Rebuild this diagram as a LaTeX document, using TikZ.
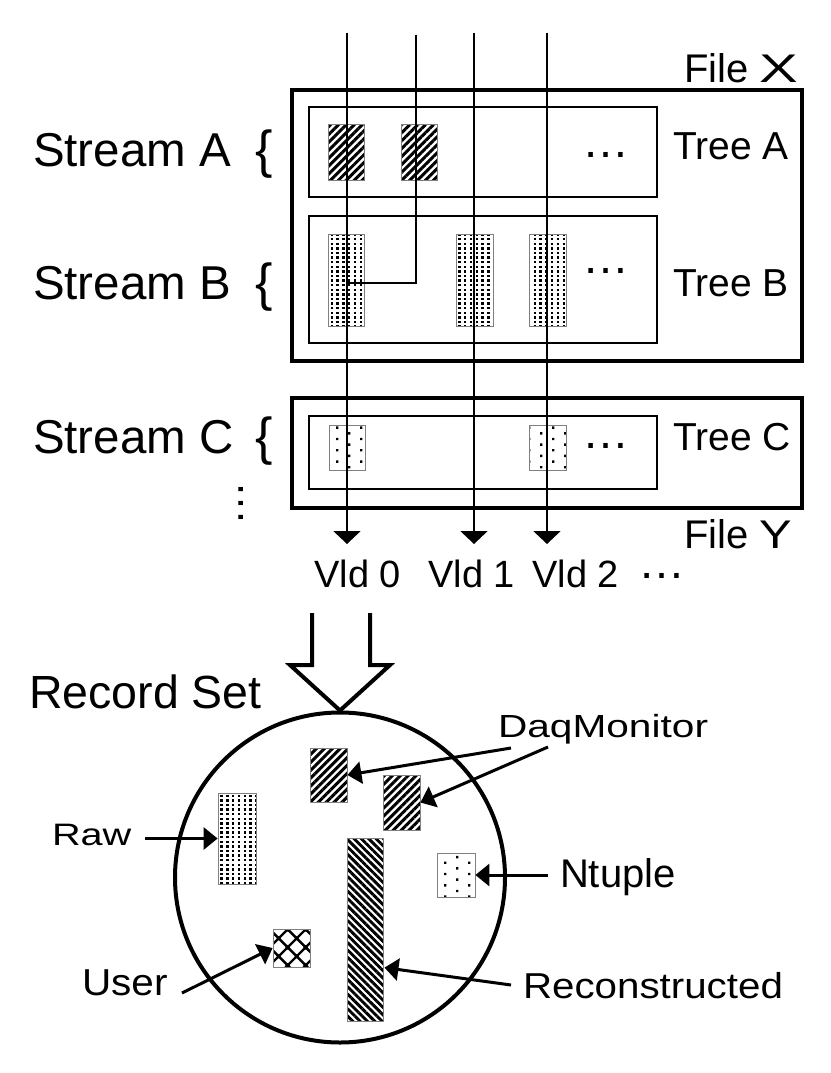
\documentclass[tikz,border=0pt]{standalone}
\usepackage{fontspec}
\setmainfont{Liberation Sans}
\usetikzlibrary{arrows.meta,patterns,patterns.meta,calc}

\pgfdeclarepatternformonly{densedots}{\pgfqpoint{-1pt}{-1pt}}{\pgfqpoint{5.6pt}{4.6pt}}{\pgfqpoint{5.8pt}{4.6pt}}{%
  \pgfpathrectangle{\pgfqpoint{0pt}{0pt}}{\pgfqpoint{2.3pt}{2.3pt}}\pgfusepath{fill}}
\pgfdeclarepatternformonly{sparsedots}{\pgfqpoint{-1pt}{-1pt}}{\pgfqpoint{24pt}{11.3pt}}{\pgfqpoint{24pt}{11.3pt}}{%
  \pgfpathrectangle{\pgfqpoint{0pt}{0pt}}{\pgfqpoint{2.4pt}{2.4pt}}%
  \pgfpathrectangle{\pgfqpoint{12pt}{5.65pt}}{\pgfqpoint{2.4pt}{2.4pt}}\pgfusepath{fill}}
\pgfdeclarepatternformonly{crossx}{\pgfqpoint{0pt}{0pt}}{\pgfqpoint{18pt}{18pt}}{\pgfqpoint{18pt}{18pt}}{%
  \pgfsetlinewidth{2.4pt}%
  \pgfpathmoveto{\pgfqpoint{0pt}{0pt}}\pgfpathlineto{\pgfqpoint{18pt}{18pt}}%
  \pgfpathmoveto{\pgfqpoint{0pt}{18pt}}\pgfpathlineto{\pgfqpoint{18pt}{0pt}}%
  \pgfusepath{stroke}%
  \pgfpathrectangle{\pgfqpoint{7pt}{7pt}}{\pgfqpoint{4pt}{4pt}}%
  \pgfpathrectangle{\pgfqpoint{-2pt}{-2pt}}{\pgfqpoint{4pt}{4pt}}%
  \pgfpathrectangle{\pgfqpoint{16pt}{-2pt}}{\pgfqpoint{4pt}{4pt}}%
  \pgfpathrectangle{\pgfqpoint{-2pt}{16pt}}{\pgfqpoint{4pt}{4pt}}%
  \pgfpathrectangle{\pgfqpoint{16pt}{16pt}}{\pgfqpoint{4pt}{4pt}}%
  \pgfusepath{fill}}

\newcommand\myfs[1]{\fontsize{#1}{#1}\selectfont}

\tikzset{
  lbl/.style={inner sep=0pt, outer sep=0pt, anchor=base west},
  filebox/.style={draw, line width=4pt, inner sep=0pt},
  treebox/.style={draw, line width=2.6pt, inner sep=0pt},
  blk/.style={draw=gray, line width=0.8pt, inner sep=0pt},
  strA/.style={pattern={Lines[angle=45,distance=5.6pt,line width=3pt]}},
  strR/.style={pattern={Lines[angle=-45,distance=5.2pt,line width=2.9pt]}},
  ddots/.style={pattern=densedots},
  sdots/.style={pattern=sparsedots},
  xhatch/.style={pattern=crossx},
  vline/.style={line width=2.2pt},
  varrow/.style={line width=2.2pt, -{Triangle[length=13pt,width=27pt]}},
  larrow/.style={line width=3pt, -{Triangle[length=14pt,width=22pt]}},
}

\begin{document}
\begin{tikzpicture}[x=1pt,y=-1pt]
\fill[white] (0,0) rectangle (830,1073);
\useasboundingbox (0,0) rectangle (830,1073);

% ---- files and trees
\node[filebox, minimum width=510pt, minimum height=271pt] (fileX) at (547,225.5) {};
\node[filebox, minimum width=510pt, minimum height=110pt] (fileY) at (547,453) {};
\node[treebox, minimum width=348pt, minimum height=90pt] (treeA) at (483,152) {};
\node[treebox, minimum width=348pt, minimum height=127pt] (treeB) at (483,279.5) {};
\node[treebox, minimum width=348pt, minimum height=73pt] (treeC) at (483,452.5) {};

% ---- records in trees
\node[blk, strA, minimum width=36pt, minimum height=56pt] (a1) at (346,152) {};
\node[blk, strA, minimum width=36pt, minimum height=56pt] (a2) at (419,152) {};
\node[blk, ddots, minimum width=36pt, minimum height=92pt] (b1) at (346,280) {};
\node[blk, ddots, minimum width=37pt, minimum height=92pt] (b2) at (474.5,280) {};
\node[blk, ddots, minimum width=37pt, minimum height=92pt] (b3) at (547.5,280) {};
\node[blk, sdots, minimum width=36pt, minimum height=45pt] (c1) at (347,447.5) {};
\node[blk, sdots, minimum width=37pt, minimum height=45pt] (c2) at (547.5,447.5) {};

% ---- labels top
\node[lbl, font=\myfs{40}] (fX) at (684,82) {File \scalebox{1.45}[1]{X}};
\node[lbl, font=\myfs{40}] (fY) at (684,548) {File \scalebox{1.22}[1]{Y}};
\node[lbl, font=\myfs{47.5}] (strmA) at (33,166) {Stream A};
\node[lbl, font=\myfs{47.5}] (strmB) at (33,299) {Stream B};
\node[lbl, font=\myfs{47.5}] (strmC) at (33,453) {Stream C};
\node[lbl, font=\myfs{52}] (brA) at (255.5,167) {\{};
\node[lbl, font=\myfs{52}] (brB) at (255.5,300) {\{};
\node[lbl, font=\myfs{52}] (brC) at (255.5,454) {\{};
\node[font=\myfs{44}, rotate=90, inner sep=0pt] (vdd) at (241,503) {…};
\node[lbl, font=\myfs{39}] (tA) at (673,159) {Tree A};
\node[lbl, font=\myfs{39}] (tB) at (673,296) {Tree B};
\node[lbl, font=\myfs{39}] (tC) at (673,450) {Tree C};
\node[lbl, font=\myfs{47}] (dA) at (582.5,157) {…};
\node[lbl, font=\myfs{47}] (dB) at (582.5,273) {…};
\node[lbl, font=\myfs{47}] (dC) at (582.5,448) {…};
\node[lbl, font=\myfs{38}] (vld0) at (314.5,587) {Vld 0};
\node[lbl, font=\myfs{38}] (vld1) at (428.5,587) {Vld 1};
\node[lbl, font=\myfs{38}] (vld2) at (532.5,587) {Vld 2};
\node[lbl, font=\myfs{47}] (dV) at (638,578) {…};

% ---- vertical streams
\coordinate (v1t) at (347,33);  \coordinate (v1b) at (347,544);
\coordinate (v2t) at (416,35);  \coordinate (v2k) at (416,283); \coordinate (v2e) at (347,283);
\coordinate (v3t) at (474,33);  \coordinate (v3b) at (474,544);
\coordinate (v4t) at (547,33);  \coordinate (v4b) at (547,544);
\draw[varrow] (v1t) -- (v1b);
\draw[varrow] (v3t) -- (v3b);
\draw[varrow] (v4t) -- (v4b);
\draw[vline, line join=miter] (v2t) -- (v2k) -- (v2e);

% ---- record set
\node[circle, draw, line width=4pt, minimum size=330pt, inner sep=0pt] (rset) at (340,877.5) {};
\draw[line width=4pt, line join=miter, miter limit=10]
  (312,613) -- (312,665) -- (290,665) -- (rset.north) -- (390,665) -- (370,665) -- (370,613);
\node[lbl, font=\myfs{46.5}] (rsl) at (29,708) {Record Set};

\node[blk, strA, minimum width=37pt, minimum height=54pt] (daq1) at (328.5,775) {};
\node[blk, strA, minimum width=37pt, minimum height=55pt] (daq2) at (401.5,802.5) {};
\node[blk, ddots, minimum width=38pt, minimum height=91pt] (raw) at (237,838.5) {};
\node[blk, sdots, minimum width=38pt, minimum height=44pt] (ntuple) at (456,875) {};
\node[blk, xhatch, minimum width=37pt, minimum height=38pt] (user) at (291.5,948) {};
\node[blk, strR, minimum width=36pt, minimum height=183pt] (recon) at (365,929.5) {};

\node[lbl, font=\myfs{32}] (daql) at (498,737) {\scalebox{1.27}[1]{DaqMonitor}};
\node[lbl, font=\myfs{31}] (rawl) at (52,845) {\scalebox{1.28}[1]{Raw}};
\node[lbl, font=\myfs{40}] (ntl) at (560,887) {Ntuple};
\node[lbl, font=\myfs{36}] (recl) at (523,998) {\scalebox{1.12}[1]{Reconstructed}};
\node[lbl, font=\myfs{37.5}] (userl) at (82,995) {\scalebox{1.08}[1]{User}};

\coordinate (rawt) at (145,838.5);
\coordinate (usert) at (182,993);
\coordinate (ntt) at (548,875);
\coordinate (rect) at (511,985);
\coordinate (daqt1) at (511,748);
\coordinate (daqt2) at (548,747);
\draw[larrow] (rawt) -- (raw.west);
\draw[larrow] (usert) -- (user.west);
\draw[larrow] (ntt) -- (ntuple.east);
\draw[larrow] (rect) -- ($(recon.north east)!0.705!(recon.south east)$);
\draw[larrow] (daqt1) -- (daq1.east);
\draw[larrow] (daqt2) -- (daq2.east);
\end{tikzpicture}
\end{document}
